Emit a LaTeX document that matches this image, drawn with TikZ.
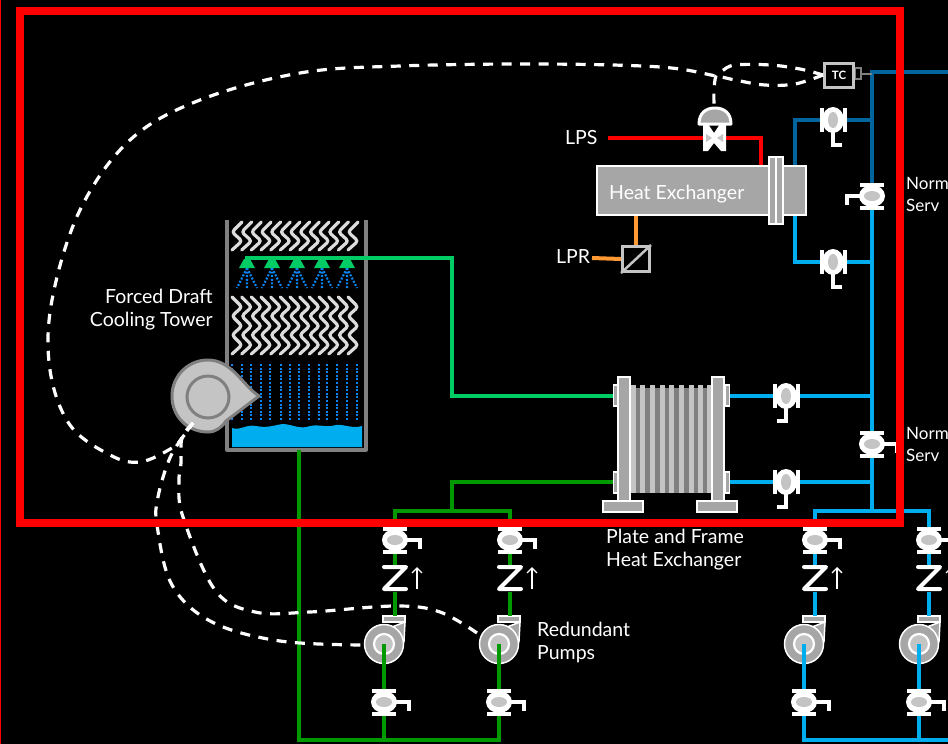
\documentclass[tikz,border=0pt]{standalone}
\usepackage{fontspec}
\setmainfont{Lato}
\usetikzlibrary{arrows.meta,calc,positioning}
\definecolor{CoolBlue}{HTML}{00AEEF}
\definecolor{HotBlue}{HTML}{00659C}
\definecolor{SprayGreen}{HTML}{00CC66}
\definecolor{LoopGreen}{HTML}{009900}
\definecolor{Steam}{HTML}{FF0000}
\definecolor{Cond}{HTML}{FF9933}
\definecolor{Drop}{HTML}{0A84F0}
\definecolor{Wall}{HTML}{808080}
\definecolor{Body}{HTML}{A6A6A6}
\definecolor{Pale}{HTML}{C4C4C4}
\tikzset{
  pipe/.style={line width=4pt},
  signal/.style={white,line width=3.2pt,dash pattern=on 10pt off 8.5pt},
  lab/.style={white,inner sep=0pt,font=\fontsize{19.5}{23}\selectfont},
  drops/.style={Drop,line width=2.2pt,dash pattern=on 2pt off 1.6pt},
  packing/.style={Pale!60!white,line width=3.2pt,rounded corners=3pt,line cap=round},
  hdl ld/.style={xscale=-1},
  hdl rd/.style={xscale=1},
  hdl dl/.style={rotate=-90},
  hdl dr/.style={rotate=-90,yscale=-1},
  vlv/.pic={
    \draw[white,line width=4pt] (-12,-11.5) -- (12,-11.5) (-12,11.5) -- (12,11.5);
    \fill[white] (0,0) circle [x radius=13pt,y radius=11pt];
    \fill[Pale] (0,0) circle [x radius=8pt,y radius=5pt];
    \draw[white,line width=4pt] (12,0) -- (25,0) -- (25,9);
  },
  chk/.pic={
    \draw[white,line width=4pt,line join=round,line cap=round] (-11,-11) -- (11,-11) -- (-11,11) -- (11,11);
    \draw[white,line width=1.3pt,-{Straight Barb[length=5pt,width=10pt]}] (22,11) -- (22,-11);
  },
  pmp/.pic={
    \draw[white,line width=1.5pt,fill=Body] (21,-22) -- (20,-3) -- (8,-17) -- cycle;
    \draw[white,line width=1.5pt,fill=Body] (-1,-28) rectangle (21,-22);
    \draw[white,line width=1.5pt,fill=Body] (0,0) circle (19.5pt);
    \draw[white,line width=2.2pt,fill=Pale] (0,0) circle (10pt);
  },
}
\begin{document}
\begin{tikzpicture}[x=1pt,y=-1pt]
  \fill[black] (0,0) rectangle (948,744);
  \useasboundingbox (0,0) rectangle (948,744);
  \clip (0,0) rectangle (948,744);

  % tower
  \fill[CoolBlue] (232,428) .. controls (240,431) and (246,424) .. (256,426)
    .. controls (266,428) and (272,426) .. (282,424) .. controls (292,424) and (300,430) .. (310,426)
    .. controls (320,424) and (326,428) .. (336,425) .. controls (344,424) and (352,429) .. (362,426)
    -- (362,447) -- (232,447) -- cycle;
  \draw[Wall,line width=4pt,line join=round] (227,220) -- (227,450) -- (366,450) -- (366,220);
  \foreach \i in {0,...,12}{
    \draw[packing] ({232+9.67*\i+10},222) -- ({232+9.67*\i},232) -- ({232+9.67*\i+10},241) -- ({232+9.67*\i},250);
    \draw[packing] ({232+9.67*\i},297) -- ({232+9.67*\i+10},307) -- ({232+9.67*\i},316)
      -- ({232+9.67*\i+10},326) -- ({232+9.67*\i},335) -- ({232+9.67*\i+10},345) -- ({232+9.67*\i},354);
  }
  \foreach \x in {232,242,251,261,270,281,290,299,309,319,327,337,347,357}{
    \draw[drops] (\x,364) -- (\x,421);
  }
  \foreach \x in {247,272,297,322,347}{
    \draw[drops] (\x,268) -- (\x-10,288) (\x,268) -- (\x,288) (\x,268) -- (\x+10,288);
    \fill[SprayGreen] (\x-3,259) -- (\x+3,259) -- (\x+8,268) -- (\x-8,268) -- cycle;
  }

  % fan
  \draw[Wall,line width=3pt,fill=Pale,line join=round] (259,396) .. controls (243,386) and (232,360) .. (208,360)
    .. controls (188,360) and (172,376) .. (172,396) .. controls (172,417) and (188,432) .. (208,432)
    .. controls (216,432) and (222,427) .. (226,421) -- cycle;
  \draw[Wall,line width=3pt] (208,397) circle (21pt);

  % named ends of the pipes
  \coordinate (sprayEnd) at (245,258);
  \coordinate (hxHotIn) at (795,166);
  \coordinate (hxHotOut) at (795,215);
  \coordinate (lpsEnd) at (761,166);
  \coordinate (supTop) at (872,72);
  \coordinate (supRight) at (948,72);
  \coordinate (retTop) at (872,207);
  \coordinate (retTee) at (872,511);

  % pumps
  \foreach \nm/\x in {pumpA/384,pumpB/499,pumpC/804,pumpD/919}{
    \coordinate (\nm) at (\x,644);
    \pic at (\nm) {pmp};
  }

  % condenser loop
  \draw[SprayGreen,pipe] (sprayEnd) -- (452,258) -- (452,396) -- (615,396);
  \draw[LoopGreen,pipe] (615,482) -- (452,482) -- (452,511);
  \draw[LoopGreen,pipe] (395,616) -- (395,511) -- (510,511) -- (510,616);
  \draw[LoopGreen,pipe] (pumpA) -- (384,740);
  \draw[LoopGreen,pipe] (pumpB) -- (499,740) -- (299,740) -- (299,450);

  % service water
  \draw[HotBlue,pipe] (supRight) -- (supTop) -- (872,186);
  \draw[HotBlue,pipe] (872,120) -- (795,120) -- (hxHotIn);
  \draw[CoolBlue,pipe] (hxHotOut) -- (795,262) -- (872,262);
  \draw[CoolBlue,pipe] (retTop) -- (retTee);
  \draw[CoolBlue,pipe] (729,396) -- (872,396);
  \draw[CoolBlue,pipe] (729,482) -- (872,482);
  \draw[CoolBlue,pipe] (815,616) -- (815,511) -- (929,511) -- (929,616);
  \draw[CoolBlue,pipe] (pumpC) -- (804,740) -- (948,740);
  \draw[CoolBlue,pipe] (pumpD) -- (919,740);

  % valves
  \foreach \nm/\x/\y/\hdl in {vSupA/833/120/hdl dr,vSupB/833/262/hdl dr,vMain/872/196/hdl ld,
    vPlateA/786/396/hdl dl,vPlateB/786/482/hdl dl,vBypass/872/444/hdl rd,
    vTopA/395/540/hdl rd,vTopB/510/540/hdl rd,vTopC/815/540/hdl rd,vTopD/929/540/hdl rd,
    vLowA/384/702/hdl rd,vLowB/499/702/hdl rd,vLowC/804/702/hdl rd,vLowD/919/702/hdl rd}{
    \coordinate (\nm) at (\x,\y);
    \pic[\hdl] at (\nm) {vlv};
  }
  \foreach \x in {395,510,815,929}{
    \fill[black] (\x-13,565) rectangle (\x+13,592);
    \pic at (\x,578) {chk};
  }

  % heat exchanger
  \draw[Steam,pipe] (608,138) -- (761,138) -- (lpsEnd);
  \node[draw=white,fill=Body,line width=1.5pt,minimum width=209pt,minimum height=49pt,inner sep=0pt] (hx) at (701.5,190.5) {};
  \draw[white,fill=Body,line width=1.5pt] (769,157) rectangle (783,224);
  \draw[white,line width=1.5pt] (776,157) -- (776,224);
  \node[lab,anchor=west] (hxLabel) at (609,194) {Heat Exchanger};
  \node[lab,anchor=west] (lpsLabel) at (565,138) {LPS};
  \node[lab,anchor=west] (lprLabel) at (556,257) {LPR};
  \node[draw=Pale,line width=3pt,fill=black,minimum width=27pt,minimum height=25pt,inner sep=0pt] (conv) at (636,259) {};
  \draw[Pale,line width=2.5pt] (conv.south west) -- (conv.north east);
  \draw[Cond,pipe] (592,258) -- (conv.west);
  \draw[Cond,pipe] (hx.south -| conv) -- (conv.north);

  % control valve
  \coordinate (cv) at (714,138);
  \draw[white,line width=3pt,fill=Body,line join=round] (699,124) .. controls (699,113) and (706,108) .. (715,108)
    .. controls (724,108) and (731,113) .. (731,124) -- cycle;
  \fill[white] (703,124) -- (708,124) -- (714,133) -- (720,124) -- (726,124) -- (726,151) -- (721,151)
    -- (714,143) -- (708,151) -- (703,151) -- cycle;
  \fill[Pale] (706,134) -- (712,138) -- (706,142) -- cycle;
  \fill[Pale] (723,134) -- (717,138) -- (723,142) -- cycle;

  % plate and frame
  \fill[Wall] (630,388) rectangle (712,493);
  \foreach \x in {633,642,652,662,671,681,691,700,709}{
    \fill[Pale] (\x-2.5,385) rectangle (\x+2.5,493);
  }
  \foreach \x/\nm in {618/plateL,712/plateR}{
    \draw[white,fill=Body,line width=1.5pt] (\x,377) rectangle (\x+12,503);
    \draw[white,fill=Body,line width=1.5pt] (\x-15,501) rectangle (\x+25,512);
  }
  \foreach \y in {385,472}{
    \draw[white,fill=Body,line width=1.5pt] (613.5,\y) rectangle (618,\y+21);
    \draw[white,fill=Body,line width=1.5pt] (725,\y) rectangle (729.5,\y+21);
  }
  \node[lab,anchor=north west,align=left] (plateLabel) at (606,529) {Plate and Frame\\Heat Exchanger};
  \node[lab,anchor=north east,align=right] (towerLabel) at (213,289) {Forced Draft\\Cooling Tower};
  \node[lab,anchor=north west,align=left] (pumpLabel) at (537,622) {Redundant\\Pumps};
  \node[lab,anchor=north west,align=left,font=\fontsize{17}{22}\selectfont] (svcA) at (906,177) {Norm\\Serv};
  \node[lab,anchor=north west,align=left,font=\fontsize{17}{22}\selectfont] (svcB) at (906,427) {Norm\\Serv};

  % controller and signals
  \node[draw=Pale,line width=3pt,fill=black,text=white,minimum width=29pt,minimum height=24pt,inner sep=0pt,font=\bfseries\fontsize{11.5}{11.5}\selectfont] (tc) at (839,75) {TC};
  \draw[Wall,line width=1.5pt] (855.5,68) rectangle (861,79) (861,74) -- (872,74);
  \coordinate (sigTee) at (716,76);
  \coordinate (fanTap) at (193,423);
  \draw[signal] plot[smooth,tension=.6] coordinates {(tc.west) (795,84) (765,85) (735,80) (sigTee) (660,67) (540,64) (400,66) (300,73)
    (200,100) (130,140) (80,210) (52,300) (50,370) (70,425) (110,455) (140,462) (172,448) (182,438) (fanTap)};
  \draw[signal] plot[smooth,tension=.6] coordinates {(tc.west) (800,69) (770,65) (735,65) (722,71) (sigTee) (714,90) (714,105)};
  \draw[signal] plot[smooth,tension=.6] coordinates {(fanTap) (182,438) (169,460) (158,497) (157,525) (172,585) (212,622) (280,641) (364,645)};
  \draw[signal] plot[smooth,tension=.6] coordinates {(fanTap) (182,438) (181,463) (179,482) (183,517) (215,590) (255,612) (310,612) (395,606) (440,612) (480,635)};

  % frame
  \draw[Steam,line width=8pt,line join=miter] (20,11) rectangle (900,523);
  \draw[Steam,line width=2pt] (0,0) -- (0,744);
\end{tikzpicture}
\end{document}
